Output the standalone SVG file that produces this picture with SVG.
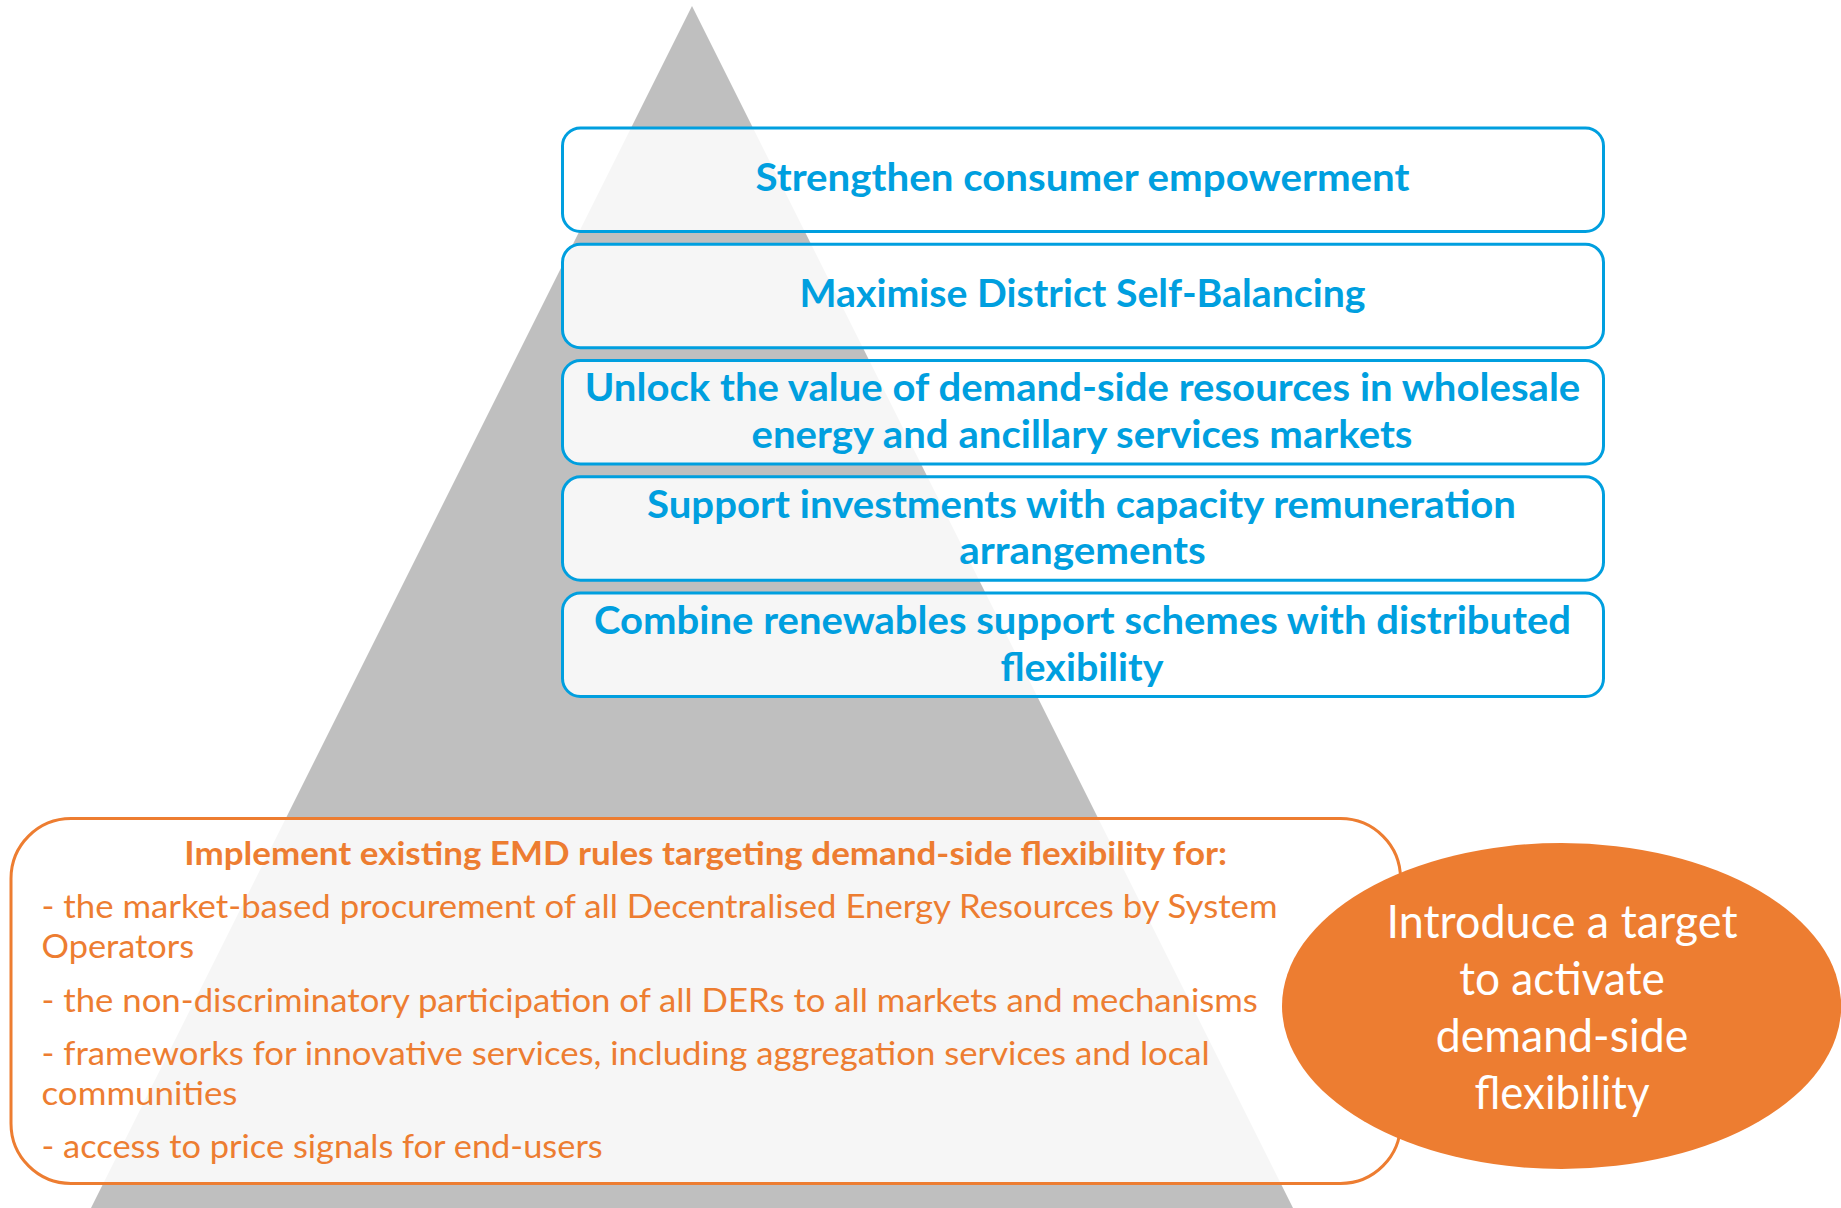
<svg xmlns="http://www.w3.org/2000/svg" width="1841" height="1208" viewBox="0 0 1841 1208">
  <style>
    .tier { fill: #ffffff; fill-opacity: 0.85; stroke: #009FDF; stroke-width: 3; }
    .tier-text { font-family: Lato, "Open Sans", "Liberation Sans", sans-serif; font-weight: bold; font-size: 39px; fill: #009FDF; text-anchor: middle; }
    .base { fill: #ffffff; fill-opacity: 0.85; stroke: #ED7D31; stroke-width: 3; }
    .base-head { font-family: Lato, "Open Sans", "Liberation Sans", sans-serif; font-weight: bold; font-size: 32px; fill: #ED7D31; text-anchor: middle; }
    .base-item { font-family: Lato, "Open Sans", "Liberation Sans", sans-serif; font-size: 32px; fill: #ED7D31; }
    .target { fill: #ED7D31; }
    .target-text { font-family: Lato, "Open Sans", "Liberation Sans", sans-serif; font-size: 46px; fill: #ffffff; text-anchor: middle; }
  </style>

  <!-- pyramid backdrop -->
  <polygon id="pyramid" points="692,6 91,1208 1293,1208" fill="#BFBFBF"/>

  <!-- tiers of the pyramid -->
  <g id="tier-consumer">
    <rect class="tier" x="562.5" y="128" width="1041" height="103.5" rx="18"/>
    <text class="tier-text" x="1082.5" y="191" textLength="654" lengthAdjust="spacingAndGlyphs">Strengthen consumer empowerment</text>
  </g>
  <g id="tier-district">
    <rect class="tier" x="562.5" y="244.3" width="1041" height="103.5" rx="18"/>
    <text class="tier-text" x="1082.5" y="307.3" textLength="566" lengthAdjust="spacingAndGlyphs">Maximise District Self-Balancing</text>
  </g>
  <g id="tier-wholesale">
    <rect class="tier" x="562.5" y="360.5" width="1041" height="103.5" rx="18"/>
    <text class="tier-text" x="1082.5" y="401.2" textLength="995.6" lengthAdjust="spacingAndGlyphs">Unlock the value of demand-side resources in wholesale</text>
    <text class="tier-text" x="1082" y="447.8" textLength="661" lengthAdjust="spacingAndGlyphs">energy and ancillary services markets</text>
  </g>
  <g id="tier-capacity">
    <rect class="tier" x="562.5" y="476.8" width="1041" height="103.5" rx="18"/>
    <text class="tier-text" x="1081.5" y="517.5" textLength="869" lengthAdjust="spacingAndGlyphs">Support investments with capacity remuneration</text>
    <text class="tier-text" x="1082.5" y="564" textLength="246.5" lengthAdjust="spacingAndGlyphs">arrangements</text>
  </g>
  <g id="tier-renewables">
    <rect class="tier" x="562.5" y="593" width="1041" height="103.5" rx="18"/>
    <text class="tier-text" x="1082.5" y="633.8" textLength="977" lengthAdjust="spacingAndGlyphs">Combine renewables support schemes with distributed</text>
    <text class="tier-text" x="1082" y="680.5" textLength="163" lengthAdjust="spacingAndGlyphs">flexibility</text>
  </g>

  <!-- foundation: existing EMD rules -->
  <g id="base-emd">
    <rect class="base" x="11" y="818.5" width="1389.5" height="365" rx="60"/>
    <text class="base-head" x="705.7" y="865" textLength="1042.7" lengthAdjust="spacingAndGlyphs">Implement existing EMD rules targeting demand-side flexibility for:</text>
    <text class="base-item" x="41.5" y="918" textLength="1236" lengthAdjust="spacingAndGlyphs">- the market-based procurement of all Decentralised Energy Resources by System</text>
    <text class="base-item" x="41.5" y="958" textLength="152.6" lengthAdjust="spacingAndGlyphs">Operators</text>
    <text class="base-item" x="41.5" y="1012" textLength="1216.4" lengthAdjust="spacingAndGlyphs">- the non-discriminatory participation of all DERs to all markets and mechanisms</text>
    <text class="base-item" x="41.5" y="1065" textLength="1168.3" lengthAdjust="spacingAndGlyphs">- frameworks for innovative services, including aggregation services and local</text>
    <text class="base-item" x="41.5" y="1105" textLength="196" lengthAdjust="spacingAndGlyphs">communities</text>
    <text class="base-item" x="41.5" y="1157.5" textLength="561.2" lengthAdjust="spacingAndGlyphs">- access to price signals for end-users</text>
  </g>

  <!-- target bubble -->
  <g id="target">
    <ellipse class="target" cx="1561.6" cy="1006" rx="279.6" ry="163"/>
    <text class="target-text" x="1562" y="938" textLength="351" lengthAdjust="spacingAndGlyphs">Introduce a target</text>
    <text class="target-text" x="1562" y="995" textLength="205.5" lengthAdjust="spacingAndGlyphs">to activate</text>
    <text class="target-text" x="1562" y="1052" textLength="252.4" lengthAdjust="spacingAndGlyphs">demand-side</text>
    <text class="target-text" x="1562" y="1109" textLength="175" lengthAdjust="spacingAndGlyphs">flexibility</text>
  </g>
</svg>
